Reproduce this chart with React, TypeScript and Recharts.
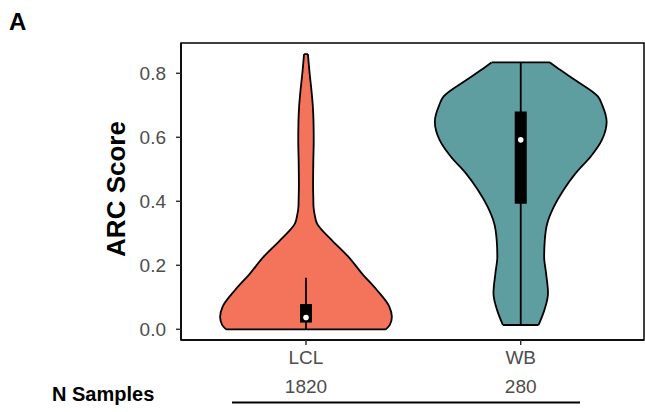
import {
  Area,
  ComposedChart,
  ReferenceArea,
  ReferenceDot,
  ReferenceLine,
  XAxis,
  YAxis,
} from "recharts";

const categories = ["LCL", "WB"];
const nSamples = [1820, 280];
const fills = ["#F3745A", "#5F9EA0"];

// violin outlines: score levels and the half width (in category units)
const lclScore = [0, 0.013, 0.039, 0.071, 0.123, 0.175, 0.227, 0.279, 0.331, 0.36, 0.384, 0.414, 0.45, 0.52, 0.592, 0.65, 0.696, 0.75, 0.8, 0.86];
const lclHalfWidth = [0.372, 0.39, 0.4, 0.388, 0.33, 0.26, 0.197, 0.12, 0.051, 0.04, 0.035, 0.034, 0.033, 0.034, 0.036, 0.035, 0.032, 0.025, 0.017, 0.009];

const wbScore = [0.0135, 0.06, 0.113, 0.175, 0.227, 0.279, 0.332, 0.384, 0.436, 0.488, 0.54, 0.592, 0.649, 0.7, 0.727, 0.779, 0.81, 0.834];
const wbHalfWidth = [0.083, 0.11, 0.127, 0.118, 0.109, 0.112, 0.124, 0.155, 0.2, 0.256, 0.326, 0.378, 0.4, 0.38, 0.36, 0.253, 0.185, 0.136];

// box stats: [lower whisker, q1, median, q3, upper whisker]
const lclBox = [0, 0.021, 0.037, 0.079, 0.161];
const wbBox = [0.0135, 0.392, 0.592, 0.681, 0.834];

const yTicks = [0, 0.2, 0.4, 0.6, 0.8];

const X_DOMAIN = [0.418, 2.574];
const Y_DOMAIN = [-0.0334, 0.8947];
const BOX_HALF = 0.028;
const FONT = "'Liberation Sans', Arial, sans-serif";

function violinData(center: number, scores: number[], widths: number[]) {
  return scores.map((s, i) => ({ score: s, range: [center - widths[i], center + widths[i]] }));
}

const violins = [
  { center: 1, scores: lclScore, widths: lclHalfWidth, box: lclBox },
  { center: 2, scores: wbScore, widths: wbHalfWidth, box: wbBox },
];

export default function App() {
  return (
    <div style={{ position: "absolute", left: 0, top: 0, width: 645, height: 412, background: "#fff" }}>
      <ComposedChart
        width={645}
        height={412}
        layout="vertical"
        margin={{ top: 43, right: 1, bottom: 42, left: 0 }}
        style={{ fontFamily: FONT }}
      >
        <XAxis
          type="number"
          dataKey="range"
          domain={X_DOMAIN}
          allowDataOverflow
          ticks={[1, 2]}
          tickFormatter={(v) => categories[v - 1]}
          height={30}
          tickSize={5}
          tickMargin={6}
          tick={{ fill: "#4d4d4d", fontSize: 19 }}
          axisLine={{ stroke: "#000", strokeWidth: 1.5 }}
          tickLine={{ stroke: "#333", strokeWidth: 1.5 }}
        />
        <YAxis
          type="number"
          dataKey="score"
          domain={Y_DOMAIN}
          reversed
          allowDataOverflow
          ticks={yTicks}
          tickFormatter={(v) => v.toFixed(1)}
          width={181}
          tickSize={5}
          tickMargin={10}
          tick={{ fill: "#4d4d4d", fontSize: 19 }}
          axisLine={{ stroke: "#000", strokeWidth: 1.5 }}
          tickLine={{ stroke: "#333", strokeWidth: 1.5 }}
        />

        {/* panel border */}
        <ReferenceArea
          x1={X_DOMAIN[0]}
          x2={X_DOMAIN[1]}
          y1={Y_DOMAIN[0]}
          y2={Y_DOMAIN[1]}
          fill="none"
          stroke="#000"
          strokeWidth={1.5}
          ifOverflow="visible"
        />

        {violins.map((v, i) => (
          <Area
            key={categories[i]}
            data={violinData(v.center, v.scores, v.widths)}
            dataKey="range"
            type="monotone"
            fill={fills[i]}
            fillOpacity={1}
            stroke="#000"
            strokeWidth={1.8}
            dot={false}
            activeDot={false}
            isAnimationActive={false}
          />
        ))}

        {violins.map((v, i) => {
          const last = v.scores.length - 1;
          return [
            <ReferenceLine
              key={`b${i}`}
              segment={[{ x: v.center - v.widths[0], y: v.scores[0] }, { x: v.center + v.widths[0], y: v.scores[0] }]}
              stroke="#000"
              strokeWidth={1.8}
              zIndex={600}
            />,
            <ReferenceLine
              key={`t${i}`}
              segment={[{ x: v.center - v.widths[last], y: v.scores[last] }, { x: v.center + v.widths[last], y: v.scores[last] }]}
              stroke="#000"
              strokeWidth={1.8}
              zIndex={600}
            />,
            <ReferenceLine
              key={`w${i}`}
              segment={[{ x: v.center, y: v.box[0] }, { x: v.center, y: v.box[4] }]}
              stroke="#000"
              strokeWidth={1.8}
              zIndex={600}
            />,
            <ReferenceArea
              key={`q${i}`}
              x1={v.center - BOX_HALF}
              x2={v.center + BOX_HALF}
              y1={v.box[1]}
              y2={v.box[3]}
              fill="#000"
              fillOpacity={1}
              stroke="none"
              zIndex={700}
            />,
            <ReferenceDot
              key={`m${i}`}
              x={v.center}
              y={v.box[2]}
              r={2.8}
              fill="#fff"
              stroke="none"
              zIndex={800}
            />,
          ];
        })}
      </ComposedChart>

      <svg width={645} height={412} style={{ position: "absolute", left: 0, top: 0, pointerEvents: "none", fontFamily: FONT }}>
        <text x={9} y={30} fontSize={24} fontWeight="bold" fill="#000">A</text>
        <text x={125} y={189} fontSize={26} fontWeight="bold" fill="#000" textAnchor="middle" transform="rotate(-90, 125, 189)">
          ARC Score
        </text>
        <text x={52} y={400.5} fontSize={20} fontWeight="bold" fill="#000">N Samples</text>
        <text x={306} y={393.3} fontSize={19} fill="#4d4d4d" textAnchor="middle">{nSamples[0]}</text>
        <text x={520.7} y={393.3} fontSize={19} fill="#4d4d4d" textAnchor="middle">{nSamples[1]}</text>
        <line x1={232} x2={580} y1={402.5} y2={402.5} stroke="#000" strokeWidth={2} />
      </svg>
    </div>
  );
}
